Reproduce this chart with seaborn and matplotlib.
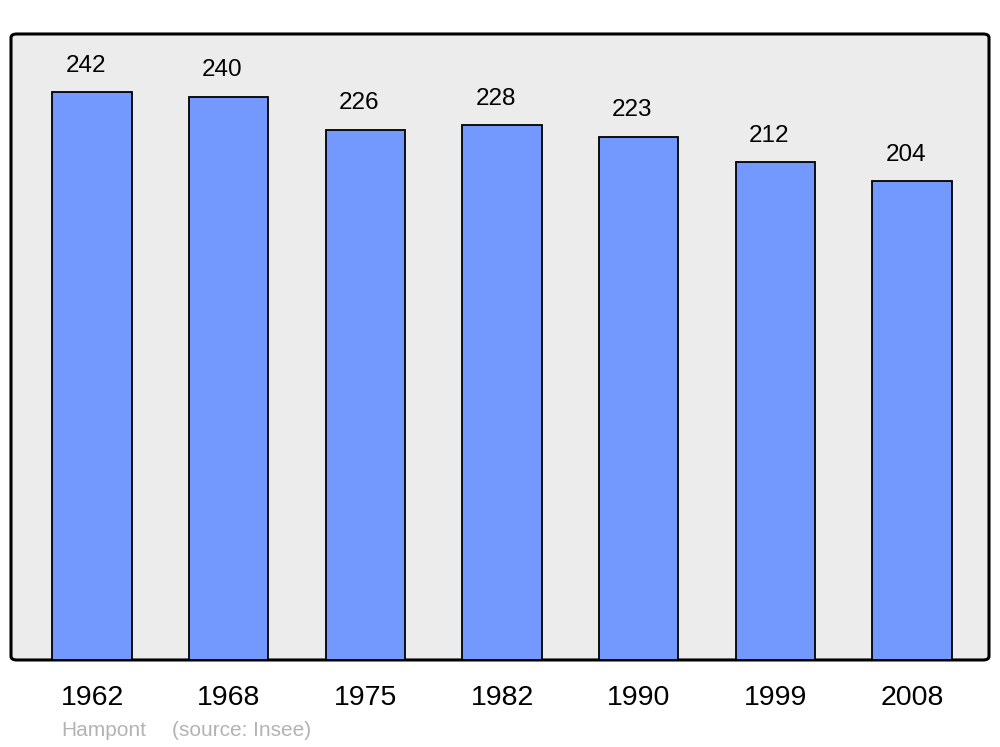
import matplotlib
matplotlib.use("Agg")
import matplotlib.pyplot as plt
import seaborn as sns
import pandas as pd
from matplotlib.patches import FancyBboxPatch

years = ["1962", "1968", "1975", "1982", "1990", "1999", "2008"]
population = [242, 240, 226, 228, 223, 212, 204]
place = "Hampont"
source = "(source: Insee)"

sns.set_theme(style="white")
plt.rcParams['font.family'] = ['Liberation Sans', 'DejaVu Sans']

df = pd.DataFrame({"year": years, "pop": population})

fig = plt.figure(figsize=(10, 7.47), dpi=100)
ax = fig.add_axes([0.011, 0.1165, 0.978, 0.838])
ax.set_facecolor("none")

# rounded frame behind the bars
frame = FancyBboxPatch((0, 0), 1, 1, boxstyle="round,pad=0,rounding_size=0.006",
                       transform=ax.transAxes, facecolor="#ececec",
                       edgecolor="black", linewidth=2.2, zorder=0, clip_on=False)
ax.add_patch(frame)

sns.barplot(data=df, x="year", y="pop", color="#7399ff", saturation=1,
            width=0.58, edgecolor="black", linewidth=1.3, ax=ax, zorder=2)

# value labels, sitting a little left of the bar centre like the original
for bar, v in zip(ax.containers[0], population):
    ax.annotate(str(v), (bar.get_x() + bar.get_width() / 2, bar.get_height()),
                xytext=(-4.5, 11), textcoords="offset points",
                ha="center", va="bottom", fontsize=17.5, color="black")

ax.set_xlim(-0.593, 6.563)
ax.set_ylim(0, 266.7)
ax.set_xlabel("")
ax.set_ylabel("")
ax.set_yticks([])
ax.tick_params(axis="x", length=0, pad=18, labelsize=20.5, labelcolor="black")
for s in ax.spines.values():
    s.set_visible(False)

y_src = 1 - 730 / 747
fig.text(0.061, y_src, place, fontsize=15, color="#b3b3b3", va="center", ha="left")
fig.text(0.172, y_src, source, fontsize=15, color="#b3b3b3", va="center", ha="left")

fig.savefig("out.png", dpi=100)
